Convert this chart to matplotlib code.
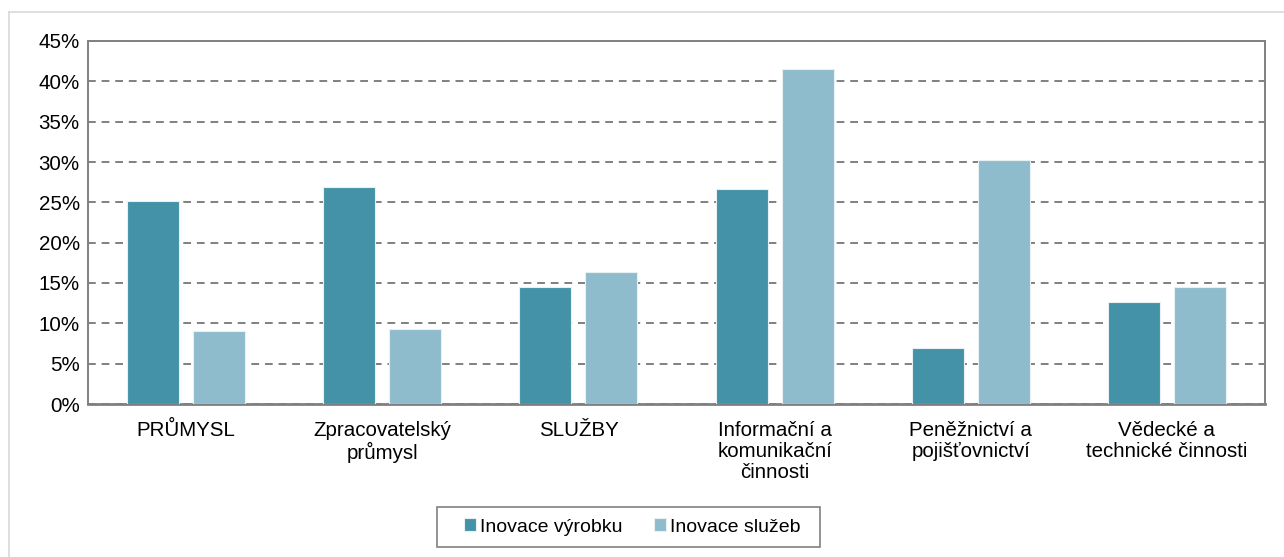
import matplotlib
matplotlib.use("Agg")
import matplotlib.pyplot as plt
import numpy as np
from matplotlib.lines import Line2D
from matplotlib.patches import Rectangle

categories = ["PRŮMYSL", "Zpracovatelský\nprůmysl", "SLUŽBY",
              "Informační a\nkomunikační\nčinnosti", "Peněžnictví a\npojišťovnictví",
              "Vědecké a\ntechnické činnosti"]
series_names = ["Inovace výrobku", "Inovace služeb"]
inovace_vyrobku = [25.2, 26.9, 14.5, 26.7, 6.95, 12.7]
inovace_sluzeb = [9.1, 9.3, 16.4, 41.5, 30.2, 14.5]
yticks = [0, 5, 10, 15, 20, 25, 30, 35, 40, 45]

plt.rcParams['font.family'] = ['Liberation Sans', 'DejaVu Sans']

W, H = 1284, 557
fig = plt.figure(figsize=(W/100, H/100), dpi=100)
ax = fig.add_axes([88/W, 1-404/H, (1265-88)/W, (404-41)/H])

x = np.arange(len(categories))
w = 0.265
off = 0.168
c1 = "#4392A8"
c2 = "#8FBCCC"
ax.bar(x - off, inovace_vyrobku, w, color=c1, edgecolor="#e8f0f3", linewidth=0.8,
       label=series_names[0], zorder=3)
ax.bar(x + off, inovace_sluzeb, w, color=c2, edgecolor="#e8f0f3", linewidth=0.8,
       label=series_names[1], zorder=3)

ax.set_xlim(-0.5, len(categories) - 0.5)
ax.set_ylim(0, 45)
ax.set_yticks(yticks)
ax.set_yticklabels([f"{v}%" for v in yticks])
ax.set_xticks(x)
ax.set_xticklabels(categories, fontsize=14.8, linespacing=1.15)
ax.tick_params(axis='y', length=0, labelsize=14.8, pad=6)
ax.tick_params(axis='x', length=0, pad=12)
ax.yaxis.grid(True, linestyle=(0, (4, 3)), color="#808080", linewidth=1.4, zorder=0)
ax.set_axisbelow(True)
for s in ['left', 'right', 'top']:
    ax.spines[s].set_color("#808080")
    ax.spines[s].set_linewidth(1.4)
ax.spines['bottom'].set_color("#808080")
ax.spines['bottom'].set_linewidth(2)

leg = fig.legend(loc='center', bbox_to_anchor=(464/W, 1-547/H, 336/W, 40/H),
                 mode='expand', ncol=2,
                 fontsize=14, frameon=False,
                 handlelength=0.6, handleheight=0.6, handletextpad=0.2,
                 columnspacing=1.5, borderpad=0.0, borderaxespad=0)

fig.add_artist(Rectangle((437/W, 1-547/H), 383/W, 40/H, transform=fig.transFigure,
                         facecolor='none', edgecolor="#808080", linewidth=1.2))

# outer light frame (top and left edges visible)
fig.add_artist(Line2D([9/W, 1], [1-12/H, 1-12/H], color="#d9d9d9", lw=1.2,
                      transform=fig.transFigure))
fig.add_artist(Line2D([9/W, 9/W], [0, 1-12/H], color="#d9d9d9", lw=1.2,
                      transform=fig.transFigure))

fig.savefig("out.png", dpi=100)
